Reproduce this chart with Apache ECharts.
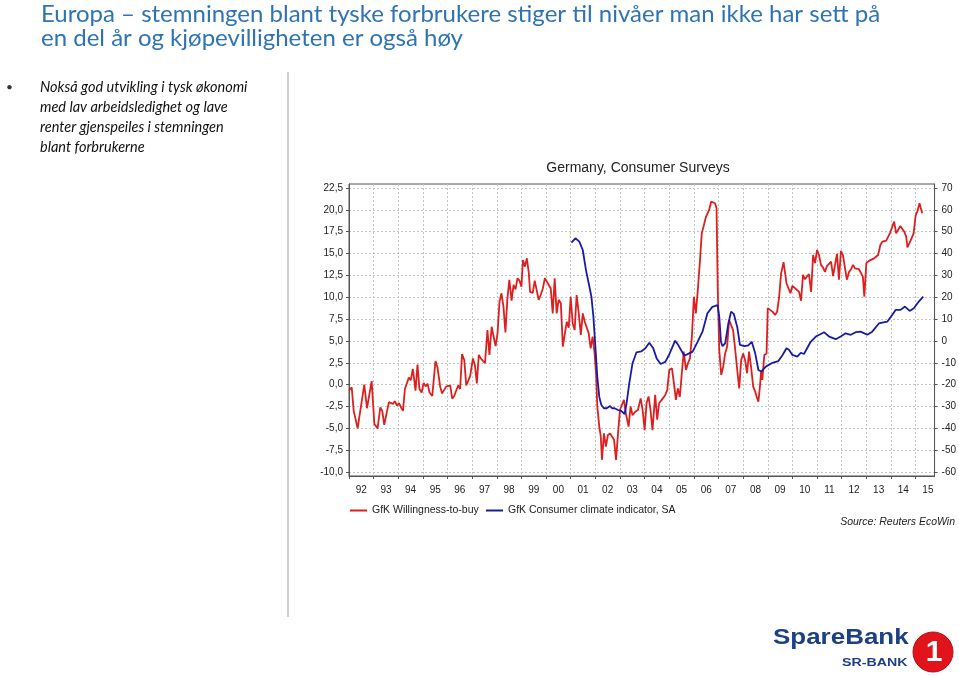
<!DOCTYPE html>
<html><head><meta charset="utf-8">
<script src="https://cdn.jsdelivr.net/npm/echarts@6/dist/echarts.min.js"></script>
<style>html,body{margin:0;padding:0;background:#fff}#c{width:959px;height:676px}</style>
</head><body><div id="c"></div>
<script>
// ---- data ----
const xTickYears = [1992,1993,1994,1995,1996,1997,1998,1999,2000,2001,2002,2003,2004,2005,2006,2007,2008,2009,2010,2011,2012,2013,2014,2015];
const leftTicks = [-10,-7.5,-5,-2.5,0,2.5,5,7.5,10,12.5,15,17.5,20,22.5];
const rightTicks = [-60,-50,-40,-30,-20,-10,0,10,20,30,40,50,60,70];

const redName = 'GfK Willingness-to-buy';
const blueName = 'GfK Consumer climate indicator, SA';

// GfK Willingness-to-buy (right axis)
const redYears = [
1992.00,1992.11,1992.19,1992.27,1992.35,1992.43,1992.62,1992.73,1992.81,1992.92,
1993.03,1993.16,1993.27,1993.35,1993.43,1993.51,1993.62,1993.70,1993.78,1993.86,1993.95,
1994.03,1994.11,1994.19,1994.27,1994.35,1994.43,1994.51,1994.59,1994.65,1994.70,1994.78,1994.86,1994.95,
1995.03,1995.11,1995.19,1995.27,1995.38,1995.51,1995.59,1995.70,1995.78,1995.86,1995.95,
1996.03,1996.11,1996.19,1996.27,1996.35,1996.43,1996.51,1996.59,1996.68,1996.76,1996.84,1996.92,
1997.03,1997.11,1997.19,1997.27,1997.35,1997.43,1997.52,1997.62,1997.70,1997.79,1997.87,1997.95,
1998.03,1998.11,1998.19,1998.27,1998.35,1998.43,1998.51,1998.60,1998.68,1998.76,1998.84,1998.92,
1999.00,1999.06,1999.14,1999.22,1999.30,1999.35,1999.46,1999.54,1999.62,1999.70,1999.78,1999.87,1999.95,
2000.03,2000.11,2000.19,2000.27,2000.35,2000.43,2000.51,2000.60,2000.68,2000.76,2000.84,2000.92,
2001.00,2001.08,2001.16,2001.24,2001.32,2001.41,2001.49,2001.57,2001.65,2001.73,2001.81,2001.89,2001.97,
2002.03,2002.08,2002.16,2002.22,2002.27,2002.35,2002.43,2002.51,2002.60,2002.68,2002.76,2002.84,2002.92,
2003.00,2003.08,2003.16,2003.24,2003.35,2003.43,2003.51,2003.62,2003.73,2003.84,2003.92,
2004.00,2004.08,2004.16,2004.24,2004.32,2004.43,2004.51,2004.59,2004.68,2004.76,2004.84,2004.92,
2005.00,2005.11,2005.19,2005.27,2005.35,2005.43,2005.51,2005.59,2005.68,2005.76,2005.84,2005.92,
2006.00,2006.08,2006.16,2006.24,2006.32,2006.41,2006.49,2006.57,2006.62,2006.70,2006.78,2006.86,2006.92,2006.97,
2007.03,2007.11,2007.19,2007.27,2007.35,2007.43,2007.51,2007.59,2007.68,2007.76,2007.84,2007.92,
2008.00,2008.08,2008.16,2008.24,2008.32,2008.41,2008.49,2008.57,2008.62,2008.68,2008.73,2008.78,2008.86,2008.95,
2009.00,2009.08,2009.19,2009.30,2009.38,2009.46,2009.54,2009.64,2009.76,2009.84,2009.92,
2010.00,2010.08,2010.16,2010.27,2010.35,2010.43,2010.51,2010.59,2010.67,2010.76,2010.84,2010.92,
2011.00,2011.08,2011.16,2011.24,2011.32,2011.40,2011.48,2011.57,2011.65,2011.73,2011.81,2011.89,2011.97,
2012.05,2012.13,2012.21,2012.30,2012.38,2012.46,2012.54,2012.62,2012.70,2012.78,2012.86,2012.92,
2013.00,2013.08,2013.16,2013.24,2013.32,2013.40,2013.48,2013.57,2013.65,2013.73,2013.81,2013.89,2013.97,
2014.05,2014.13,2014.21,2014.29,2014.38,2014.46,2014.54,2014.62,2014.67,2014.75,2014.84,2014.92,
2015.00,2015.08,2015.16,2015.21,2015.27
];
const redValues = [
-22.8,-21.2,-32,-31.6,-40,-40.4,-20,-30.8,-31.6,-18.4,
-38,-40,-30.4,-32,-38.4,-38,-28,-27.2,-28.8,-27.6,-29.6,
-28.4,-30.4,-32,-22,-21.6,-16.8,-18,-12.8,-18,-22.8,-10.8,-22,-23.6,
-19.2,-20.8,-19.6,-23.6,-25.2,-9.2,-12,-20.8,-24,-24.4,-20.8,
-21.6,-20.4,-26.4,-25.2,-24.4,-20.4,-22,-6,-8.8,-20.4,-20,-16,
-8,-11,-19.4,-6.4,-8,-7.2,-10.2,5,-6.4,6.5,6,-2.4,
3.5,18,21.8,15.7,3.9,19.5,27.9,18.4,25.6,23.6,28.7,27.6,
24.8,37,34,37.8,31,22.4,22,27.6,27.2,18.8,21,24,28.7,
27.2,25.6,24,12.6,28.7,12.6,18.8,17.2,-2.6,-2,8.8,6,
20.2,8,5,21,13.4,2.8,12.6,8.8,8,3.5,-3.4,2,-5.7,
-15.2,-30,-39.2,-43.6,-54.4,-42.3,-48.4,-43,-42.4,-43,-45.2,-54.4,-42.4,
-31.6,-29.2,-27,-33.2,-39.2,-30,-34,-32.4,-31.6,-26.3,-31.6,
-40.8,-28.4,-25.4,-31.6,-40.8,-24.7,-36,-28.4,-27.2,-28,-24.7,-22.4,
-13.3,-12.5,-19.4,-27,-21.7,-25.6,-14.8,-4.9,-13.3,-10.2,-8,2,
20.2,12.6,23.3,35.6,49.2,53.1,56.8,56,60,63.7,64.2,63,60.8,23.3,
-4.2,-15.6,-11.8,-5.7,-2.6,9.6,8.8,5,-4.2,-13.3,-21.7,-8.8,
-5.7,-8.8,-14.8,-4.9,-11.8,-21,-23.2,-26.3,-27.8,-21,-14,-17.8,-6.4,-5.7,
15,14.2,13.4,11.9,13.4,20,30.8,36,26.4,26,21.8,
25.2,24.8,23.6,22.4,18.4,30.2,28.2,28.4,30.6,22.4,39.3,35.6,
41.6,39.3,34.8,33.6,31.6,34.2,34.8,36.3,29.7,30.2,39.8,28,41.2,
39.3,38.6,28,31.6,32.8,34.8,33.2,32.4,32.8,32.4,29.4,20.2,
35.6,36.3,37,36.8,37.8,37,39.3,43.9,45.4,45,45.9,46.2,49.6,
49.2,54.6,49.2,50,52.6,52,50,47.7,42.8,44.7,47,49.2,
57.2,59.6,63,60.8,58.4
];

// GfK Consumer climate indicator, SA (left axis)
const blueYears = [
2001.03,2001.19,2001.35,2001.49,2001.62,2001.76,2001.84,2001.92,
2002.00,2002.08,2002.16,2002.24,2002.35,2002.46,2002.60,2002.68,2002.78,2002.92,
2003.05,2003.19,2003.27,2003.38,2003.51,2003.67,2003.86,
2004.03,2004.19,2004.35,2004.49,2004.65,2004.84,
2005.00,2005.24,2005.35,2005.61,2005.81,2005.95,
2006.15,2006.35,2006.55,2006.75,2006.96,
2007.03,2007.10,2007.16,2007.27,2007.40,2007.51,2007.62,2007.76,2007.87,
2008.05,2008.21,2008.35,2008.49,2008.62,2008.73,2008.92,
2009.19,2009.43,2009.60,2009.76,2009.86,
2010.00,2010.20,2010.34,2010.47,2010.74,2010.95,
2011.15,2011.28,2011.49,2011.76,2011.96,
2012.16,2012.37,2012.57,2012.77,
2013.04,2013.24,2013.51,2013.65,2013.85,
2014.05,2014.19,2014.39,2014.57,2014.76,2014.93,
2015.13,2015.31
];
const blueValues = [
16.24,16.74,16.36,15.4,13.1,11.2,10.06,7.8,
4.4,0.9,-1.4,-2.3,-2.7,-2.7,-2.45,-2.7,-2.7,-2.9,
-3.0,-3.36,-2.1,0.2,2.45,3.7,3.8,
4.16,4.8,4.15,3.0,2.36,2.6,
3.45,5.03,4.6,3.3,3.58,3.77,
4.9,6.06,8.16,8.9,9.1,
7.8,4.9,4.4,4.73,7.0,8.35,8.1,6.6,4.54,
4.4,4.5,4.9,3.58,1.67,1.5,2.06,
2.5,2.7,3.4,4.16,4.0,
3.4,3.2,3.65,3.5,4.9,5.5,
5.8,6.0,5.5,5.2,5.5,
5.87,5.7,6.0,6.06,
5.7,6.06,7.0,7.1,7.2,
7.97,8.55,8.55,8.93,8.43,8.74,
9.5,10.06
];

// ---- chart ----
const AX = '"Liberation Sans", Arial, sans-serif';
const LT = 'Lato, "Open Sans", sans-serif';
const G = {left: 349, top: 184, right: 23, bottom: 200};
const leftMin = -10.45, leftMax = 22.95;
const toRight = v => 4 * v - 20;   // right axis = 4 * left - 20

const chart = echarts.init(document.getElementById('c'), null, {renderer: 'canvas'});
const fmtLeft = v => (Math.round(v * 10) / 10).toFixed(1).replace('.', ',');

chart.setOption({
  backgroundColor: '#ffffff',
  animation: false,
  grid: {left: G.left, top: G.top, right: G.right, bottom: G.bottom, show: true,
         borderColor: '#555', borderWidth: 1, backgroundColor: 'transparent'},
  xAxis: {
    type: 'value', min: 1992, max: 2015.77,
    axisLine: {show: true, onZero: false, lineStyle: {color: '#555', width: 1}},
    axisTick: {show: true, customValues: xTickYears, length: 3, lineStyle: {color: '#555'}},
    axisLabel: {customValues: xTickYears.map(y => y + 0.5), formatter: v => String(Math.floor(v)).slice(2),
                fontSize: 10, color: '#222', fontFamily: AX, margin: 9},
    splitLine: {show: true, lineStyle: {color: '#c4c4c4', width: 1, type: [2, 2]}}
  },
  yAxis: [
    {type: 'value', position: 'left', min: leftMin, max: leftMax,
     axisLine: {show: true, onZero: false, lineStyle: {color: '#555'}},
     axisTick: {show: true, customValues: leftTicks, length: 3, lineStyle: {color: '#555'}},
     axisLabel: {customValues: leftTicks, formatter: fmtLeft, fontSize: 10, color: '#222', fontFamily: AX, margin: 6},
     splitLine: {show: true, lineStyle: {color: '#c4c4c4', width: 1, type: [2, 2]}}},
    {type: 'value', position: 'right', min: toRight(leftMin), max: toRight(leftMax),
     axisLine: {show: true, onZero: false, lineStyle: {color: '#555'}},
     axisTick: {show: true, customValues: rightTicks, length: 3, lineStyle: {color: '#555'}},
     axisLabel: {customValues: rightTicks, formatter: v => String(Math.round(v)), fontSize: 10, color: '#222', fontFamily: AX, margin: 7},
     splitLine: {show: false}}
  ],
  legend: [
    {left: 345, top: 500, data: [redName], icon: 'rect', itemWidth: 17, itemHeight: 2, itemGap: 5,
     textStyle: {fontSize: 10.5, color: '#222', fontFamily: AX}},
    {left: 481, top: 500, data: [blueName], icon: 'rect', itemWidth: 17, itemHeight: 2, itemGap: 5,
     textStyle: {fontSize: 10.5, color: '#222', fontFamily: AX}}
  ],
  series: [
    {name: redName, type: 'line', yAxisIndex: 1, showSymbol: false, symbol: 'none',
     data: redYears.map((x, i) => [x, redValues[i]]),
     lineStyle: {color: '#dd1f1f', width: 1.8}, itemStyle: {color: '#dd1f1f'}},
    {name: blueName, type: 'line', yAxisIndex: 0, showSymbol: false, symbol: 'none',
     data: blueYears.map((x, i) => [x, blueValues[i]]),
     lineStyle: {color: '#1a1aa8', width: 1.8}, itemStyle: {color: '#1a1aa8'}}
  ],
  graphic: [
    {type: 'text', x: 41, y: 14, style: {text: 'Europa – stemningen blant tyske forbrukere stiger til nivåer man ikke har sett på',
      font: '24px ' + LT, fill: '#2e74b5', textVerticalAlign: 'middle', verticalAlign: 'middle'}},
    {type: 'text', x: 41, y: 38, style: {text: 'en del år og kjøpevilligheten er også høy',
      font: '24px ' + LT, fill: '#2e74b5', textVerticalAlign: 'middle', verticalAlign: 'middle'}},
    {type: 'text', x: 6, y: 87, style: {text: '•', font: '12px ' + LT, fill: '#333', textVerticalAlign: 'middle', verticalAlign: 'middle'}},
    {type: 'text', x: 40, y: 87, style: {text: 'Nokså god utvikling i tysk økonomi', font: 'italic 14.5px ' + LT, fill: '#111', textVerticalAlign: 'middle', verticalAlign: 'middle'}},
    {type: 'text', x: 40, y: 107, style: {text: 'med lav arbeidsledighet og lave', font: 'italic 14.5px ' + LT, fill: '#111', textVerticalAlign: 'middle', verticalAlign: 'middle'}},
    {type: 'text', x: 40, y: 127, style: {text: 'renter gjenspeiles i stemningen', font: 'italic 14.5px ' + LT, fill: '#111', textVerticalAlign: 'middle', verticalAlign: 'middle'}},
    {type: 'text', x: 40, y: 147, style: {text: 'blant forbrukerne', font: 'italic 14.5px ' + LT, fill: '#111', textVerticalAlign: 'middle', verticalAlign: 'middle'}},
    {type: 'line', shape: {x1: 288, y1: 72, x2: 288, y2: 617}, style: {stroke: '#cfcfcf', lineWidth: 2}},
    {type: 'text', x: 638, y: 168, style: {text: 'Germany, Consumer Surveys', font: '14px ' + AX, fill: '#222',
      textAlign: 'center', align: 'center', textVerticalAlign: 'middle', verticalAlign: 'middle'}},
    {type: 'text', x: 955, y: 522, style: {text: 'Source: Reuters EcoWin', font: 'italic 10.5px ' + AX, fill: '#222',
      textAlign: 'right', align: 'right', textVerticalAlign: 'middle', verticalAlign: 'middle'}},
    {type: 'text', x: 773, y: 649, scaleX: 1.18, style: {text: 'SpareBank', font: 'bold 22px ' + AX, fill: '#1d3f85',
      textVerticalAlign: 'bottom', verticalAlign: 'bottom'}},
    {type: 'text', x: 842, y: 668, scaleX: 1.29, style: {text: 'SR-BANK', font: 'bold 11px ' + AX, fill: '#1d3f85',
      textVerticalAlign: 'bottom', verticalAlign: 'bottom'}},
    {type: 'circle', shape: {cx: 933, cy: 652, r: 20}, style: {fill: '#e1141c', stroke: '#b80d14', lineWidth: 1}},
    {type: 'text', x: 934, y: 653, style: {text: '1', font: 'bold 30px ' + AX, fill: '#ffffff',
      textAlign: 'center', align: 'center', textVerticalAlign: 'middle', verticalAlign: 'middle'}}
  ]
});
</script>
</body></html>
